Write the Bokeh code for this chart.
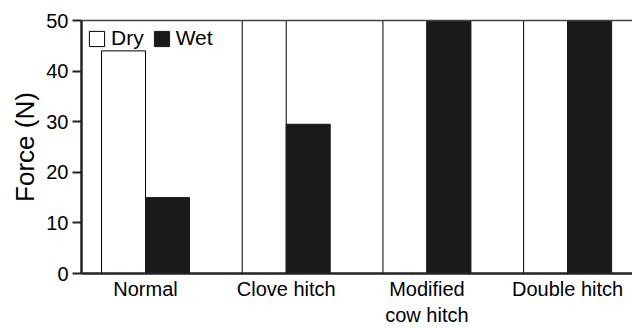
from bokeh.plotting import figure
from bokeh.models import Range1d, Legend, LegendItem, FixedTicker, ColumnDataSource, LinearAxis
from bokeh.transform import dodge
from bokeh.embed import file_html
from bokeh.resources import INLINE

categories = ["Normal", "Clove hitch", "Modified\ncow hitch", "Double hitch"]
dry = [44, 50, 50, 50]
wet = [15, 29.5, 50, 50]
y_ticks = [0, 10, 20, 30, 40, 50]

idx = list(range(len(categories)))
src = ColumnDataSource(dict(x=idx, dry=dry, wet=wet))

FONT = "Liberation Sans"

p = figure(width=632, height=328, output_backend="svg", toolbar_location=None,
           x_range=Range1d(-0.455, 3.461), y_range=Range1d(0, 50),
           x_axis_location=None, y_axis_location=None,
           min_border_left=81, min_border_right=0, min_border_top=20, min_border_bottom=55)

bw = 0.3127
r_dry = p.vbar(x=dodge("x", -bw / 2, range=p.x_range), top="dry", width=bw, source=src,
               fill_color="white", line_color="black", line_width=1)
r_wet = p.vbar(x=dodge("x", bw / 2, range=p.x_range), top="wet", width=bw, source=src,
               fill_color="#1a1a1a", line_color="#1a1a1a", line_width=1)

p.xgrid.visible = False
p.ygrid.visible = False
p.outline_line_color = None
p.background_fill_color = "white"
p.border_fill_color = "white"

# top frame line only
top = LinearAxis(ticker=FixedTicker(ticks=[]), axis_line_color="#444444", axis_line_width=1.5,
                 major_tick_line_color=None, minor_tick_line_color=None,
                 major_label_text_font_size="0px")
p.add_layout(top, "above")

ya = LinearAxis(ticker=FixedTicker(ticks=y_ticks))
ya.minor_tick_line_color = None
ya.major_tick_in = 0
ya.major_tick_out = 9
ya.major_tick_line_width = 2
ya.axis_line_width = 2.5
ya.axis_line_color = "#222222"
ya.major_tick_line_color = "#222222"
ya.major_label_text_font = FONT
ya.major_label_text_font_size = "20px"
ya.major_label_text_color = "black"
ya.major_label_standoff = 4
ya.axis_label = "Force (N)"
ya.axis_label_text_font = FONT
ya.axis_label_text_font_size = "26px"
ya.axis_label_text_font_style = "normal"
ya.axis_label_text_color = "black"
ya.axis_label_standoff = 3
p.add_layout(ya, "left")

xa = LinearAxis(ticker=FixedTicker(ticks=idx))
xa.major_label_overrides = {i: c for i, c in zip(idx, categories)}
xa.minor_tick_line_color = None
xa.major_tick_in = 0
xa.major_tick_out = 0
xa.axis_line_width = 2.5
xa.axis_line_color = "#222222"
xa.major_label_text_font = FONT
xa.major_label_text_font_size = "20px"
xa.major_label_text_color = "black"
xa.major_label_standoff = 4
p.add_layout(xa, "below")

legend = Legend(items=[LegendItem(label="Dry", renderers=[r_dry]),
                       LegendItem(label="Wet", renderers=[r_wet])],
                location="top_left", orientation="horizontal",
                margin=0, padding=6, glyph_width=19, glyph_height=19,
                label_standoff=5, spacing=8,
                label_text_font=FONT, label_text_font_size="21px",
                label_text_color="black",
                label_height=19,
                border_line_alpha=0, background_fill_alpha=0)
p.add_layout(legend)

open("out.html", "w").write(file_html(p, INLINE))
